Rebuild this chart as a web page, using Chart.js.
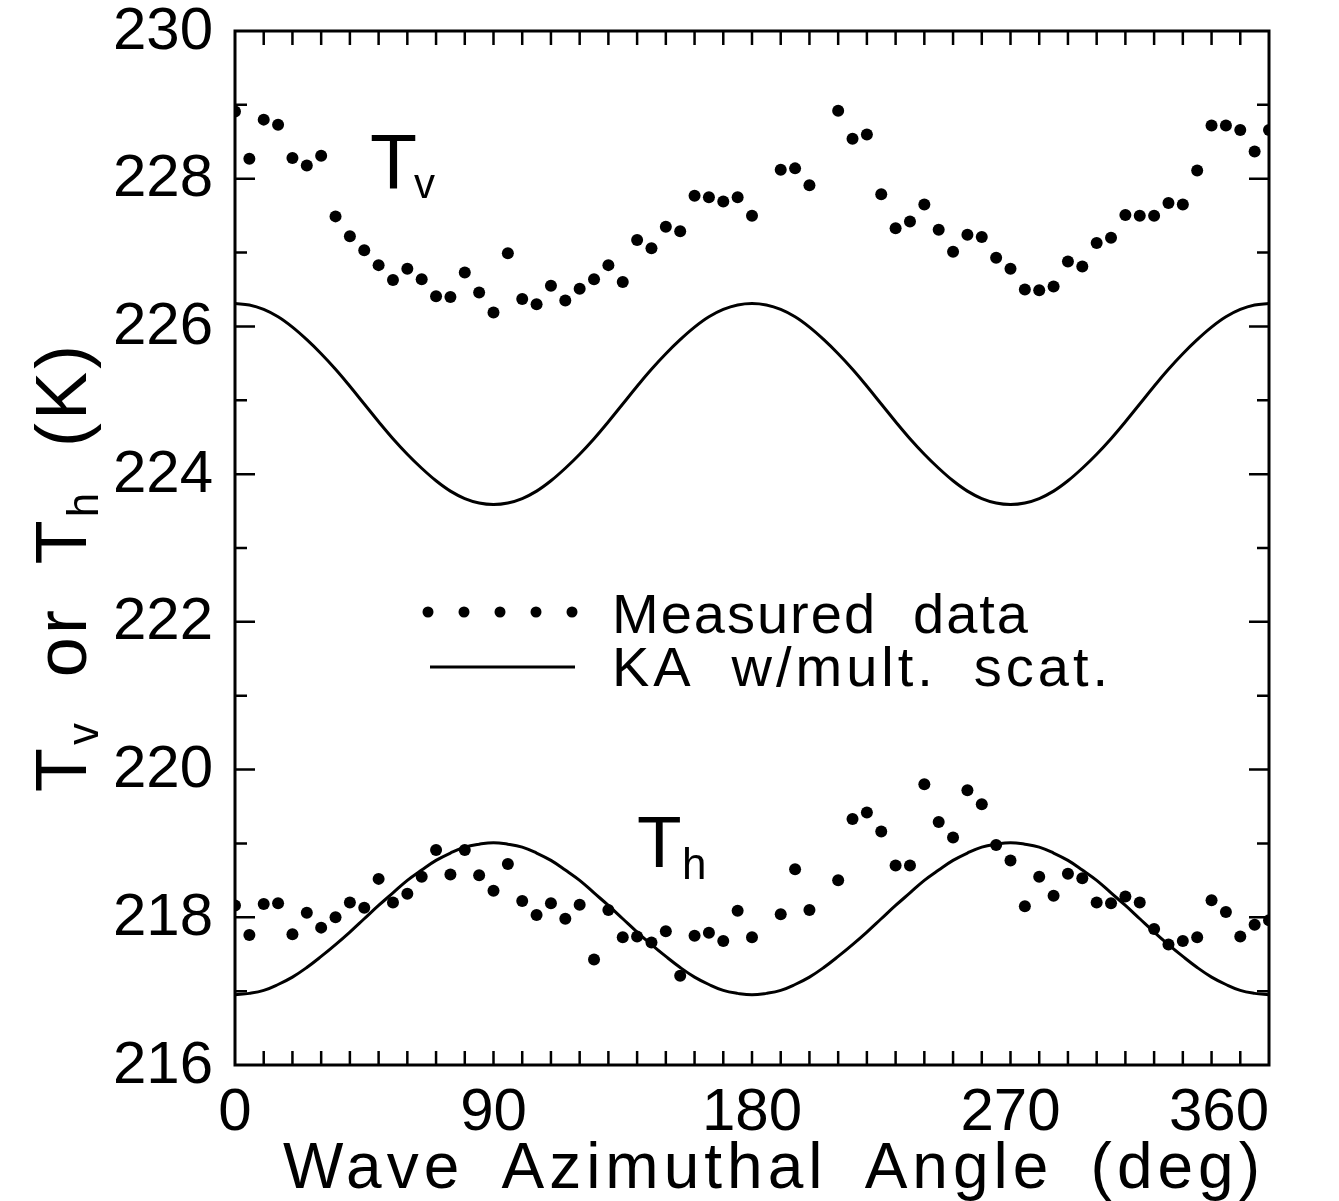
<!DOCTYPE html>
<html>
<head>
<meta charset="utf-8">
<script src="https://cdn.jsdelivr.net/npm/chart.js@4.4.1/dist/chart.umd.min.js"></script>
<style>
  html, body { margin: 0; padding: 0; background: #fff; }
  #wrap { width: 1339px; height: 1201px; position: relative; }
</style>
</head>
<body>
<div id="wrap"><canvas id="myChart"></canvas></div>
<script>
// measured points, every 5 deg (185 and 205 have no data)
const angleMeas = [0, 5, 10, 15, 20, 25, 30, 35, 40, 45, 50, 55, 60, 65, 70, 75, 80, 85, 90,
  95, 100, 105, 110, 115, 120, 125, 130, 135, 140, 145, 150, 155, 160, 165, 170, 175, 180,
  190, 195, 200, 210, 215, 220, 225, 230, 235, 240, 245, 250, 255, 260, 265, 270,
  275, 280, 285, 290, 295, 300, 305, 310, 315, 320, 325, 330, 335, 340, 345, 350, 355, 360];

const tvMeas = [228.91, 228.27, 228.80, 228.73, 228.28, 228.18, 228.31, 227.49, 227.22, 227.03,
  226.83, 226.63, 226.78, 226.64, 226.41, 226.40, 226.73, 226.46, 226.19,
  226.99, 226.37, 226.30, 226.55, 226.35, 226.51, 226.64, 226.83, 226.60, 227.17, 227.06,
  227.35, 227.29, 227.77, 227.75, 227.69, 227.75, 227.50,
  228.12, 228.14, 227.91, 228.92, 228.54, 228.60, 227.79, 227.33, 227.42, 227.65, 227.31,
  227.01, 227.24, 227.21, 226.93, 226.78,
  226.50, 226.49, 226.54, 226.88, 226.81, 227.13, 227.20, 227.51, 227.50, 227.50, 227.67,
  227.65, 228.11, 228.72, 228.72, 228.66, 228.37, 228.66];

const thMeas = [218.16, 217.76, 218.18, 218.19, 217.77, 218.06, 217.86, 218.00, 218.20, 218.13,
  218.52, 218.20, 218.32, 218.55, 218.91, 218.58, 218.91, 218.57, 218.36,
  218.72, 218.22, 218.03, 218.19, 217.98, 218.17, 217.43, 218.10, 217.73, 217.74, 217.66,
  217.81, 217.21, 217.75, 217.79, 217.68, 218.09, 217.73,
  218.04, 218.65, 218.10, 218.50, 219.33, 219.42, 219.16, 218.70, 218.70, 219.80, 219.29,
  219.08, 219.72, 219.53, 218.98, 218.77,
  218.15, 218.55, 218.29, 218.59, 218.53, 218.20, 218.19, 218.28, 218.20, 217.84, 217.63,
  217.68, 217.73, 218.23, 218.07, 217.74, 217.90, 217.96];

// KA model curves every 5 deg
const angleModel = [0, 5, 10, 15, 20, 25, 30, 35, 40, 45, 50, 55, 60, 65, 70, 75, 80, 85, 90,
  95, 100, 105, 110, 115, 120, 125, 130, 135, 140, 145, 150, 155, 160, 165, 170, 175, 180,
  185, 190, 195, 200, 205, 210, 215, 220, 225, 230, 235, 240, 245, 250, 255, 260, 265, 270,
  275, 280, 285, 290, 295, 300, 305, 310, 315, 320, 325, 330, 335, 340, 345, 350, 355, 360];
const tvModel = [226.31, 226.29, 226.23, 226.13, 225.99, 225.82, 225.63, 225.42, 225.19, 224.95,
  224.71, 224.48, 224.27, 224.08, 223.91, 223.77, 223.67, 223.61, 223.59,
  223.61, 223.67, 223.77, 223.91, 224.08, 224.27, 224.48, 224.71, 224.95, 225.19, 225.42,
  225.63, 225.82, 225.99, 226.13, 226.23, 226.29, 226.31,
  226.29, 226.23, 226.13, 225.99, 225.82, 225.63, 225.42, 225.19, 224.95,
  224.71, 224.48, 224.27, 224.08, 223.91, 223.77, 223.67, 223.61, 223.59,
  223.61, 223.67, 223.77, 223.91, 224.08, 224.27, 224.48, 224.71, 224.95, 225.19, 225.42,
  225.63, 225.82, 225.99, 226.13, 226.23, 226.29, 226.31];
const thModel = [216.95, 216.97, 217.01, 217.09, 217.19, 217.32, 217.47, 217.63, 217.80, 217.98,
  218.16, 218.33, 218.50, 218.64, 218.77, 218.87, 218.95, 218.99, 219.01,
  218.99, 218.95, 218.87, 218.77, 218.64, 218.50, 218.33, 218.16, 217.98, 217.80, 217.63,
  217.47, 217.32, 217.19, 217.09, 217.01, 216.97, 216.95,
  216.97, 217.01, 217.09, 217.19, 217.32, 217.47, 217.63, 217.80, 217.98,
  218.16, 218.33, 218.50, 218.64, 218.77, 218.87, 218.95, 218.99, 219.01,
  218.99, 218.95, 218.87, 218.77, 218.64, 218.50, 218.33, 218.16, 217.98, 217.80, 217.63,
  217.47, 217.32, 217.19, 217.09, 217.01, 216.97, 216.95];

const xTickLabels = [0, 90, 180, 270, 360];
const yTickLabels = [216, 218, 220, 222, 224, 226, 228, 230];

const FONT = '"Liberation Sans", Arial, sans-serif';

function toPts(xs, ys) {
  return xs.map((x, i) => ({ x: x, y: ys[i] }));
}

// draw words with some letter spacing, the word gaps stretched to fill width
function fitText(ctx, text, x, y, width, ls) {
  ctx.letterSpacing = ls + 'px';
  let words = text.split(' ');
  let ws = words.map(w => ctx.measureText(w).width);
  let sum = ws.reduce((s, w) => s + w, 0);
  let gap = (width - sum) / Math.max(1, words.length - 1);
  let cx = x;
  words.forEach((w, i) => {
    ctx.fillText(w, cx, y);
    cx += ws[i] + gap;
  });
  ctx.letterSpacing = '0px';
}

const framePlugin = {
  id: 'frame',
  beforeDraw(chart) {
    const ctx = chart.ctx;
    ctx.save();
    ctx.fillStyle = '#fff';
    ctx.fillRect(0, 0, chart.width, chart.height);
    ctx.restore();
  },
  afterDraw(chart) {
    const ctx = chart.ctx;
    const a = chart.chartArea;
    const xs = chart.scales.x, ys = chart.scales.y;
    ctx.save();
    ctx.strokeStyle = '#000';
    ctx.fillStyle = '#000';
    ctx.lineWidth = 3;
    ctx.strokeRect(a.left, a.top, a.right - a.left, a.bottom - a.top);

    // inward ticks
    ctx.lineWidth = 2.5;
    ctx.beginPath();
    for (let v = 10; v < 360; v += 10) {
      let px = xs.getPixelForValue(v);
      ctx.moveTo(px, a.bottom); ctx.lineTo(px, a.bottom - 14);
      ctx.moveTo(px, a.top); ctx.lineTo(px, a.top + 14);
    }
    for (let v = 217; v < 230; v += 1) {
      let py = ys.getPixelForValue(v);
      let len = (v % 2 === 0) ? 20 : 12;
      ctx.moveTo(a.left, py); ctx.lineTo(a.left + len, py);
      ctx.moveTo(a.right, py); ctx.lineTo(a.right - len, py);
    }
    ctx.stroke();

    // y tick labels
    ctx.font = '60px ' + FONT;
    ctx.textAlign = 'right';
    ctx.textBaseline = 'middle';
    yTickLabels.forEach(v => {
      ctx.fillText(String(v), a.left - 22, ys.getPixelForValue(v) + 1);
    });

    // x tick labels
    ctx.textBaseline = 'top';
    xTickLabels.forEach((v, i) => {
      let px = xs.getPixelForValue(v);
      ctx.textAlign = (i === xTickLabels.length - 1) ? 'right' : 'center';
      ctx.fillText(String(v), px, a.bottom + 18);
    });

    // x title
    ctx.font = '64px ' + FONT;
    ctx.textAlign = 'left';
    ctx.textBaseline = 'alphabetic';
    fitText(ctx, 'Wave Azimuthal Angle (deg)', 283, 1188, 982, 5);

    // y title, rotated, with subscripts
    ctx.save();
    ctx.translate(86, 567);
    ctx.rotate(-Math.PI / 2);
    const big = '72px ' + FONT, small = '44px ' + FONT;
    const parts = [
      ['T', big, 0], ['v', small, 12], [' ', null, 0], ['or', big, 0], [' ', null, 0],
      ['T', big, 0], ['h', small, 12], [' ', null, 0], ['(K)', big, 0]
    ];
    const span = 450;
    ctx.letterSpacing = '3px';
    let total = 0, gaps = 0;
    parts.forEach(p => {
      if (p[1]) { ctx.font = p[1]; total += ctx.measureText(p[0]).width; } else gaps++;
    });
    const gap = (span - total) / gaps;
    let cx = -span / 2;
    ctx.textAlign = 'left';
    parts.forEach(p => {
      if (!p[1]) { cx += gap; return; }
      ctx.font = p[1];
      ctx.fillText(p[0], cx, p[2]);
      cx += ctx.measureText(p[0]).width;
    });
    ctx.letterSpacing = '0px';
    ctx.restore();

    // curve labels
    ctx.textAlign = 'left';
    ctx.font = '77px ' + FONT;
    ctx.fillText('T', 370, 189);
    ctx.font = '42px ' + FONT;
    ctx.fillText('v', 414, 198);
    ctx.font = '73px ' + FONT;
    ctx.fillText('T', 637, 867);
    ctx.font = '44px ' + FONT;
    ctx.fillText('h', 682, 879);

    // legend
    for (let k = 0; k < 5; k++) {
      ctx.beginPath();
      ctx.arc(428 + k * 36, 612, 5.5, 0, Math.PI * 2);
      ctx.fill();
    }
    ctx.lineWidth = 3;
    ctx.beginPath();
    ctx.moveTo(430, 667); ctx.lineTo(575, 667);
    ctx.stroke();
    ctx.font = '56px ' + FONT;
    fitText(ctx, 'Measured data', 612, 633, 418, 2);
    fitText(ctx, 'KA w/mult. scat.', 612, 686, 500, 4);

    ctx.restore();
  }
};

const dotStyle = {
  showLine: false,
  pointRadius: 6,
  pointBackgroundColor: '#000',
  pointBorderWidth: 0,
  borderColor: '#000'
};
const lineStyle = {
  showLine: true,
  pointRadius: 0,
  borderColor: '#000',
  borderWidth: 3,
  tension: 0.4,
  fill: false
};

new Chart(document.getElementById('myChart'), {
  type: 'scatter',
  data: {
    datasets: [
      Object.assign({ label: 'Tv measured', data: toPts(angleMeas, tvMeas) }, dotStyle),
      Object.assign({ label: 'Th measured', data: toPts(angleMeas, thMeas) }, dotStyle),
      Object.assign({ label: 'Tv KA', data: toPts(angleModel, tvModel) }, lineStyle),
      Object.assign({ label: 'Th KA', data: toPts(angleModel, thModel) }, lineStyle)
    ]
  },
  options: {
    responsive: true,
    maintainAspectRatio: false,
    animation: false,
    layout: { padding: { left: 235, top: 31, right: 70, bottom: 136 } },
    plugins: { legend: { display: false }, tooltip: { enabled: false } },
    scales: {
      x: { type: 'linear', min: 0, max: 360, display: false },
      y: { type: 'linear', min: 216, max: 230, display: false }
    }
  },
  plugins: [framePlugin]
});
</script>
</body>
</html>
